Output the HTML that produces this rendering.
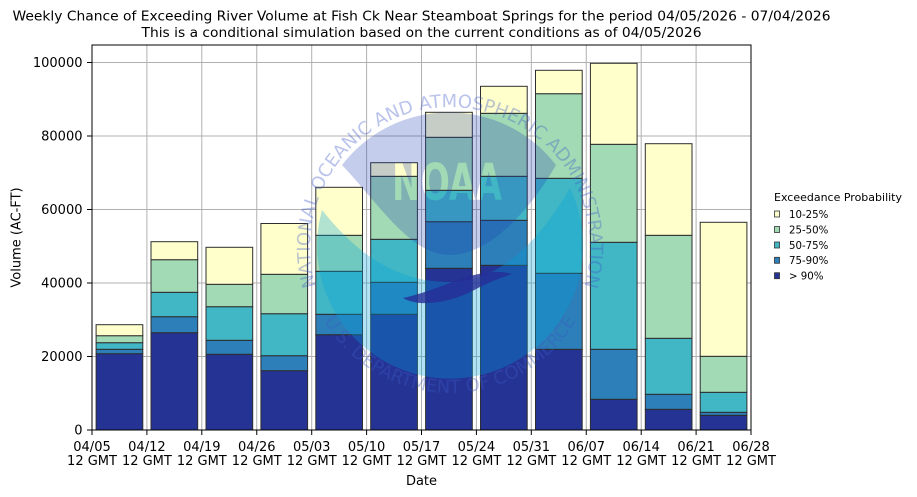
<!DOCTYPE html>
<html>
<head>
<meta charset="utf-8">
<style>
html,body{margin:0;padding:0;background:#fff;}
svg{display:block;}
text{font-family:"DejaVu Sans","Liberation Sans",sans-serif;fill:#000;}
</style>
</head>
<body>
<svg width="917" height="497" viewBox="0 0 917 497" xmlns="http://www.w3.org/2000/svg">
<rect x="0" y="0" width="917" height="497" fill="#fff"/>

<!-- Titles -->
<text x="421.5" y="20.5" font-size="13" text-anchor="middle" textLength="818" lengthAdjust="spacingAndGlyphs">Weekly Chance of Exceeding River Volume at Fish Ck Near Steamboat Springs for the period 04/05/2026 - 07/04/2026</text>
<text x="421.5" y="37" font-size="13" text-anchor="middle" textLength="560" lengthAdjust="spacingAndGlyphs">This is a conditional simulation based on the current conditions as of 04/05/2026</text>

<!-- Grid -->
<g stroke="#b0b0b0" stroke-width="1">
<line x1="92" y1="356.5" x2="751" y2="356.5"/>
<line x1="92" y1="283" x2="751" y2="283"/>
<line x1="92" y1="209.5" x2="751" y2="209.5"/>
<line x1="92" y1="136" x2="751" y2="136"/>
<line x1="92" y1="62.5" x2="751" y2="62.5"/>
<line x1="146.9" y1="45" x2="146.9" y2="430"/>
<line x1="201.8" y1="45" x2="201.8" y2="430"/>
<line x1="256.75" y1="45" x2="256.75" y2="430"/>
<line x1="311.7" y1="45" x2="311.7" y2="430"/>
<line x1="366.6" y1="45" x2="366.6" y2="430"/>
<line x1="421.5" y1="45" x2="421.5" y2="430"/>
<line x1="476.4" y1="45" x2="476.4" y2="430"/>
<line x1="531.3" y1="45" x2="531.3" y2="430"/>
<line x1="586.25" y1="45" x2="586.25" y2="430"/>
<line x1="641.2" y1="45" x2="641.2" y2="430"/>
<line x1="696.1" y1="45" x2="696.1" y2="430"/>
</g>

<!-- Bars -->
<g stroke="#2e2e2e" stroke-width="1">
<rect x="96.1" y="353.7" width="46.7" height="76.3" fill="#253494"/>
<rect x="96.1" y="349.3" width="46.7" height="4.4" fill="#2c7fb8"/>
<rect x="96.1" y="342.7" width="46.7" height="6.6" fill="#41b6c4"/>
<rect x="96.1" y="335.7" width="46.7" height="7" fill="#a1dab4"/>
<rect x="96.1" y="324.7" width="46.7" height="11" fill="#ffffcc"/>

<rect x="151.0" y="332.7" width="46.7" height="97.3" fill="#253494"/>
<rect x="151.0" y="316.7" width="46.7" height="16" fill="#2c7fb8"/>
<rect x="151.0" y="292.3" width="46.7" height="24.4" fill="#41b6c4"/>
<rect x="151.0" y="259.7" width="46.7" height="32.6" fill="#a1dab4"/>
<rect x="151.0" y="241.7" width="46.7" height="18" fill="#ffffcc"/>

<rect x="206.0" y="354.3" width="46.7" height="75.7" fill="#253494"/>
<rect x="206.0" y="340.3" width="46.7" height="14" fill="#2c7fb8"/>
<rect x="206.0" y="306.7" width="46.7" height="33.6" fill="#41b6c4"/>
<rect x="206.0" y="284.3" width="46.7" height="22.4" fill="#a1dab4"/>
<rect x="206.0" y="247.3" width="46.7" height="37" fill="#ffffcc"/>

<rect x="260.9" y="370.7" width="46.7" height="59.3" fill="#253494"/>
<rect x="260.9" y="355.7" width="46.7" height="15" fill="#2c7fb8"/>
<rect x="260.9" y="313.7" width="46.7" height="42" fill="#41b6c4"/>
<rect x="260.9" y="274.3" width="46.7" height="39.4" fill="#a1dab4"/>
<rect x="260.9" y="223.5" width="46.7" height="50.8" fill="#ffffcc"/>

<rect x="315.8" y="334.7" width="46.7" height="95.3" fill="#253494"/>
<rect x="315.8" y="314.3" width="46.7" height="20.4" fill="#2c7fb8"/>
<rect x="315.8" y="271.3" width="46.7" height="43" fill="#41b6c4"/>
<rect x="315.8" y="235.3" width="46.7" height="36" fill="#a1dab4"/>
<rect x="315.8" y="187.3" width="46.7" height="48" fill="#ffffcc"/>

<rect x="370.7" y="314.3" width="46.7" height="115.7" fill="#253494"/>
<rect x="370.7" y="282.3" width="46.7" height="32" fill="#2c7fb8"/>
<rect x="370.7" y="239.3" width="46.7" height="43" fill="#41b6c4"/>
<rect x="370.7" y="176.3" width="46.7" height="63" fill="#a1dab4"/>
<rect x="370.7" y="162.7" width="46.7" height="13.6" fill="#ffffcc"/>

<rect x="425.6" y="268.3" width="46.7" height="161.7" fill="#253494"/>
<rect x="425.6" y="221.7" width="46.7" height="46.6" fill="#2c7fb8"/>
<rect x="425.6" y="190.3" width="46.7" height="31.4" fill="#41b6c4"/>
<rect x="425.6" y="137.3" width="46.7" height="53" fill="#a1dab4"/>
<rect x="425.6" y="112.3" width="46.7" height="25" fill="#ffffcc"/>

<rect x="480.5" y="265.3" width="46.7" height="164.7" fill="#253494"/>
<rect x="480.5" y="220.3" width="46.7" height="45" fill="#2c7fb8"/>
<rect x="480.5" y="176.3" width="46.7" height="44" fill="#41b6c4"/>
<rect x="480.5" y="113.3" width="46.7" height="63" fill="#a1dab4"/>
<rect x="480.5" y="86.3" width="46.7" height="27" fill="#ffffcc"/>

<rect x="535.5" y="349.3" width="46.7" height="80.7" fill="#253494"/>
<rect x="535.5" y="273.3" width="46.7" height="76" fill="#2c7fb8"/>
<rect x="535.5" y="178.3" width="46.7" height="95" fill="#41b6c4"/>
<rect x="535.5" y="93.7" width="46.7" height="84.6" fill="#a1dab4"/>
<rect x="535.5" y="70.3" width="46.7" height="23.4" fill="#ffffcc"/>

<rect x="590.4" y="399.3" width="46.7" height="30.7" fill="#253494"/>
<rect x="590.4" y="349.3" width="46.7" height="50" fill="#2c7fb8"/>
<rect x="590.4" y="242.3" width="46.7" height="107" fill="#41b6c4"/>
<rect x="590.4" y="144.3" width="46.7" height="98" fill="#a1dab4"/>
<rect x="590.4" y="63.3" width="46.7" height="81" fill="#ffffcc"/>

<rect x="645.3" y="409.3" width="46.7" height="20.7" fill="#253494"/>
<rect x="645.3" y="394.3" width="46.7" height="15" fill="#2c7fb8"/>
<rect x="645.3" y="338.3" width="46.7" height="56" fill="#41b6c4"/>
<rect x="645.3" y="235.3" width="46.7" height="103" fill="#a1dab4"/>
<rect x="645.3" y="143.7" width="46.7" height="91.6" fill="#ffffcc"/>

<rect x="700.2" y="415.3" width="46.7" height="14.7" fill="#253494"/>
<rect x="700.2" y="412.3" width="46.7" height="3" fill="#2c7fb8"/>
<rect x="700.2" y="392.3" width="46.7" height="20" fill="#41b6c4"/>
<rect x="700.2" y="356.3" width="46.7" height="36" fill="#a1dab4"/>
<rect x="700.2" y="222.3" width="46.7" height="134" fill="#ffffcc"/>
</g>

<!-- NOAA watermark -->
<defs>
<mask id="noaaMask" maskUnits="userSpaceOnUse" x="0" y="0" width="917" height="497">
<rect x="0" y="0" width="917" height="497" fill="#fff"/>
<text x="447" y="200" font-size="51" font-weight="bold" text-anchor="middle" textLength="110" lengthAdjust="spacingAndGlyphs" style="fill:#000">NOAA</text>
</mask>
<path id="topArc" d="M 318.4 294.9 A 140 140 0 1 1 581.6 294.9"/>
<path id="botArc" d="M 321.1 315.5 A 146 146 0 0 0 578.9 315.5"/>
</defs>
<g>
<path d="M 342 165 A 135 135 0 0 1 556 165 C 530 210 490 255 450 255 C 410 255 380 205 342 165 Z" fill="rgb(30,60,180)" fill-opacity="0.26" mask="url(#noaaMask)"/>
<path d="M 322 210 C 360 258 400 282 450 282 C 500 282 540 240 570 188 A 133 133 0 1 1 322 210 Z" fill="rgb(0,163,221)" fill-opacity="0.3"/>
<path d="M 403 298 C 430 292 450 282 470 276 C 485 272 500 270 512 274 C 500 278 490 282 478 288 C 460 298 440 304 420 303 C 412 302 406 300 403 298 Z" fill="rgb(37,45,150)" fill-opacity="0.8"/>
<text font-size="18" style="fill:rgb(60,90,200);fill-opacity:0.36"><textPath href="#topArc" startOffset="50%" text-anchor="middle">NATIONAL OCEANIC AND ATMOSPHERIC ADMINISTRATION</textPath></text>
<text font-size="18" style="fill:rgb(60,90,200);fill-opacity:0.36"><textPath href="#botArc" startOffset="50%" text-anchor="middle">U.S. DEPARTMENT OF COMMERCE</textPath></text>
</g>

<!-- Axes frame -->
<rect x="92" y="45" width="659" height="385" fill="none" stroke="#000" stroke-width="1"/>

<!-- Y ticks -->
<g stroke="#000" stroke-width="1">
<line x1="87" y1="430" x2="92" y2="430"/>
<line x1="87" y1="356.5" x2="92" y2="356.5"/>
<line x1="87" y1="283" x2="92" y2="283"/>
<line x1="87" y1="209.5" x2="92" y2="209.5"/>
<line x1="87" y1="136" x2="92" y2="136"/>
<line x1="87" y1="62.5" x2="92" y2="62.5"/>
</g>
<g font-size="13" text-anchor="end">
<text x="82.5" y="434.7">0</text>
<text x="82.5" y="361.2">20000</text>
<text x="82.5" y="287.7">40000</text>
<text x="82.5" y="214.2">60000</text>
<text x="82.5" y="140.7">80000</text>
<text x="82.5" y="67.2">100000</text>
</g>

<!-- X ticks -->
<g stroke="#000" stroke-width="1">
<line x1="92" y1="430" x2="92" y2="435"/>
<line x1="146.9" y1="430" x2="146.9" y2="435"/>
<line x1="201.8" y1="430" x2="201.8" y2="435"/>
<line x1="256.75" y1="430" x2="256.75" y2="435"/>
<line x1="311.7" y1="430" x2="311.7" y2="435"/>
<line x1="366.6" y1="430" x2="366.6" y2="435"/>
<line x1="421.5" y1="430" x2="421.5" y2="435"/>
<line x1="476.4" y1="430" x2="476.4" y2="435"/>
<line x1="531.3" y1="430" x2="531.3" y2="435"/>
<line x1="586.25" y1="430" x2="586.25" y2="435"/>
<line x1="641.2" y1="430" x2="641.2" y2="435"/>
<line x1="696.1" y1="430" x2="696.1" y2="435"/>
<line x1="751" y1="430" x2="751" y2="435"/>
</g>
<g font-size="13" text-anchor="middle">
<text x="92" y="451">04/05</text><text x="92" y="465">12 GMT</text>
<text x="146.9" y="451">04/12</text><text x="146.9" y="465">12 GMT</text>
<text x="201.8" y="451">04/19</text><text x="201.8" y="465">12 GMT</text>
<text x="256.75" y="451">04/26</text><text x="256.75" y="465">12 GMT</text>
<text x="311.7" y="451">05/03</text><text x="311.7" y="465">12 GMT</text>
<text x="366.6" y="451">05/10</text><text x="366.6" y="465">12 GMT</text>
<text x="421.5" y="451">05/17</text><text x="421.5" y="465">12 GMT</text>
<text x="476.4" y="451">05/24</text><text x="476.4" y="465">12 GMT</text>
<text x="531.3" y="451">05/31</text><text x="531.3" y="465">12 GMT</text>
<text x="586.25" y="451">06/07</text><text x="586.25" y="465">12 GMT</text>
<text x="641.2" y="451">06/14</text><text x="641.2" y="465">12 GMT</text>
<text x="696.1" y="451">06/21</text><text x="696.1" y="465">12 GMT</text>
<text x="751" y="451">06/28</text><text x="751" y="465">12 GMT</text>
</g>

<!-- Axis labels -->
<text x="421.5" y="485" font-size="13" text-anchor="middle">Date</text>
<text x="0" y="0" font-size="13" text-anchor="middle" transform="translate(20.5 237.5) rotate(-90)">Volume (AC-FT)</text>

<!-- Legend -->
<text x="774" y="201" font-size="10.5" textLength="128" lengthAdjust="spacingAndGlyphs">Exceedance Probability</text>
<g stroke="#333" stroke-width="0.8">
<rect x="774.5" y="211" width="5" height="6" fill="#ffffcc"/>
<rect x="774.5" y="226.5" width="5" height="6" fill="#a1dab4"/>
<rect x="774.5" y="242" width="5" height="6" fill="#41b6c4"/>
<rect x="774.5" y="257.3" width="5" height="6" fill="#2c7fb8"/>
<rect x="774.5" y="272.7" width="5" height="6" fill="#253494"/>
</g>
<g font-size="10.2">
<text x="789" y="217.8">10-25%</text>
<text x="789" y="233.3">25-50%</text>
<text x="789" y="248.8">50-75%</text>
<text x="789" y="264.1">75-90%</text>
<text x="789" y="279.5">&gt; 90%</text>
</g>
</svg>
</body>
</html>
